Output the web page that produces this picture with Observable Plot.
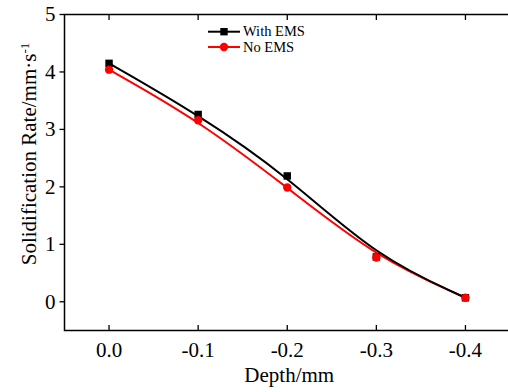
<!DOCTYPE html>
<html><head><meta charset="utf-8">
<script src="https://cdn.jsdelivr.net/npm/d3@7"></script>
<script src="https://cdn.jsdelivr.net/npm/@observablehq/plot@0.6"></script>
<style>
html,body{margin:0;padding:0;background:#fff;overflow:hidden;}
#chart svg{display:block;}
</style>
</head><body><div id="chart"></div>
<script>
const depths = [0, -0.1, -0.2, -0.3, -0.4];
const withEMS = [4.15, 3.26, 2.19, 0.78, 0.07];
const noEMS = [4.04, 3.16, 1.99, 0.77, 0.07];
const xTicks = [0, -0.1, -0.2, -0.3, -0.4];
const yTicks = [0, 1, 2, 3, 4, 5];
const seriesNames = ["With EMS", "No EMS"];
const seriesColors = ["#000000", "#ff0000"];
const seriesSymbols = ["square", "circle"];
const xTitle = "Depth/mm";
const yTitle = "Solidification Rate/mm·s";
const yTitleSup = "-1";

const rowsWith = depths.map((d, i) => ({depth: d, rate: withEMS[i]}));
const rowsNo = depths.map((d, i) => ({depth: d, rate: noEMS[i]}));
const font = "'Liberation Serif', 'Times New Roman', serif";

const chart = Plot.plot({
  width: 508,
  height: 392,
  marginLeft: 64,
  marginRight: -1.5,
  marginTop: 14,
  marginBottom: 62,
  style: {fontFamily: font, fontSize: "21px", background: "#fff", color: "#000"},
  x: {domain: [0.05, -0.45], label: null},
  y: {domain: [-0.5, 5], label: null},
  marks: [
    Plot.line(rowsNo, {x: "depth", y: "rate", curve: "basis", stroke: seriesColors[1], strokeWidth: 2}),
    Plot.line(rowsWith, {x: "depth", y: "rate", curve: "basis", stroke: seriesColors[0], strokeWidth: 2}),
    Plot.dot(rowsWith, {x: "depth", y: "rate", symbol: seriesSymbols[0], r: 4.2, fill: seriesColors[0], stroke: "none"}),
    Plot.dot(rowsNo, {x: "depth", y: "rate", symbol: seriesSymbols[1], r: 4.2, fill: seriesColors[1], stroke: "none"}),
    Plot.frame({stroke: "#000", strokeWidth: 1.5}),
    Plot.axisY({ticks: yTicks, tickSize: 4.5, tickPadding: 4.5, tickFormat: d => String(d), label: null, fontSize: 21, strokeWidth: 1.3}),
    Plot.axisX({ticks: xTicks, tickSize: 0, tickPadding: 12, tickFormat: d => d.toFixed(1), label: null, fontSize: 21}),
    Plot.axisX({anchor: "bottom", ticks: xTicks, tickSize: 5, dy: -5, tickFormat: () => "", label: null, strokeWidth: 1.3}),
    Plot.axisX({anchor: "top", ticks: xTicks, tickSize: 5, dy: 5, tickFormat: () => "", label: null, strokeWidth: 1.3}),
    Plot.text([xTitle], {frameAnchor: "bottom", text: d => d, lineAnchor: "middle", textAnchor: "middle", dx: 2, dy: 44.3, fontSize: 21, fill: "#000"}),
    Plot.text([yTitle], {frameAnchor: "left", text: d => d, rotate: -90, lineAnchor: "middle", textAnchor: "middle", dx: -35, dy: -18.5, fontSize: 21, fill: "#000"})
  ]
});
document.getElementById("chart").appendChild(chart);

// superscript on y title
const svg = d3.select(chart.tagName.toLowerCase() === "svg" ? chart : chart.querySelector("svg"));
svg.selectAll("text").filter(function() { return this.textContent === yTitle; })
  .append("tspan").attr("dy", "-0.55em").attr("font-size", "13px").text(yTitleSup);

// legend inside plot
const lg = svg.append("g").attr("font-family", font).attr("font-size", "14.5px").attr("text-anchor", "start");
const legendRows = [31.7, 47];
seriesNames.forEach((name, i) => {
  const yy = legendRows[i];
  lg.append("line").attr("x1", 208).attr("x2", 240).attr("y1", yy).attr("y2", yy)
    .attr("stroke", seriesColors[i]).attr("stroke-width", 2);
  if (seriesSymbols[i] === "square") {
    lg.append("rect").attr("x", 224 - 3.7).attr("y", yy - 3.7).attr("width", 7.4).attr("height", 7.4).attr("fill", seriesColors[i]);
  } else {
    lg.append("circle").attr("cx", 224).attr("cy", yy).attr("r", 4.2).attr("fill", seriesColors[i]);
  }
  lg.append("text").attr("x", 243).attr("y", yy).attr("dy", "0.33em").attr("text-anchor", "start").attr("fill", "#000").text(name);
});
</script>
</body></html>
